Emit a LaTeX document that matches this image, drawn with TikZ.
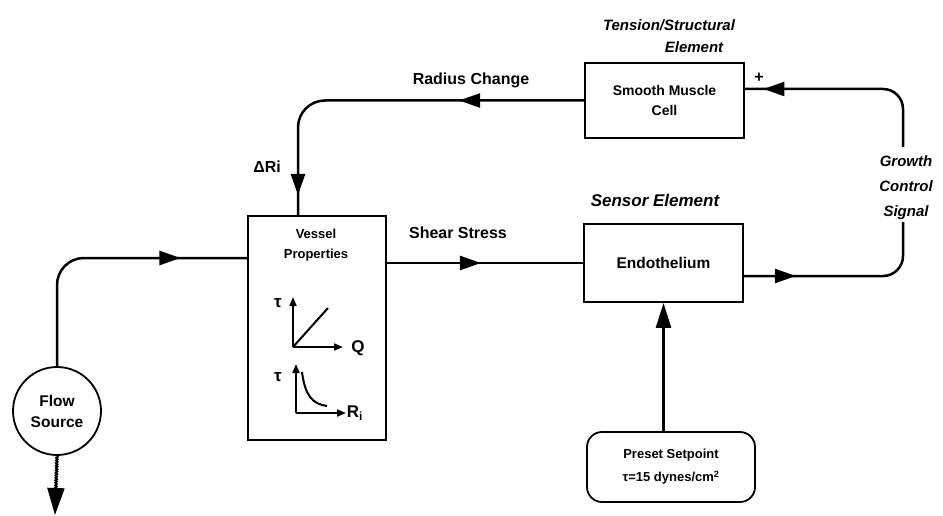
\documentclass[tikz,border=0pt]{standalone}
\usepackage{fontspec}
\setmainfont{Liberation Sans}
\usetikzlibrary{arrows.meta,positioning,calc,decorations.markings,decorations.pathmorphing}

\begin{document}
\begin{tikzpicture}[x=1pt,y=-1pt,
  blk/.style={draw,line width=1.8pt,inner sep=0pt,align=center,font=\fontsize{14}{20}\selectfont\bfseries},
  lbl/.style={inner sep=0pt,font=\fontsize{16}{18}\selectfont\bfseries},
  ilbl/.style={inner sep=0pt,align=center,font=\fontsize{15}{25}\selectfont\bfseries\itshape},
  wire/.style={line width=2.5pt},
  midtip/.style={postaction={decorate,decoration={markings,mark=at position #1 with {\arrow{Triangle[length=21pt,width=14pt]}}}}},
  plotaxis/.style={line width=2pt,-{Triangle[length=9pt,width=7pt]}}]
  \useasboundingbox (0,0) rectangle (943,516);

  % blocks
  \node[blk,minimum width=138pt,minimum height=224pt] (vessel) at (317,328) {};
  \node[blk,minimum width=159pt,minimum height=78pt,font=\fontsize{15.5}{20}\selectfont\bfseries] (endo) at (663.5,263) {Endothelium};
  \node[blk,minimum width=159pt,minimum height=75pt] (smc) at (664.5,100.5) {Smooth Muscle\\Cell};
  \node[blk,rounded corners=15pt,minimum width=168pt,minimum height=70pt,
        font=\fontsize{13}{23}\selectfont\bfseries] (preset) at (671,467)
        {Preset Setpoint\\τ=15 dynes/cm\textsuperscript{2}};
  \node[blk,circle,minimum size=88pt,font=\fontsize{15.5}{21}\selectfont\bfseries] (source) at (57,411) {Flow\\Source};
  \node[lbl,align=center,font=\fontsize{13}{20}\selectfont\bfseries] (vtitle) at (316,245) {Vessel\\Properties};

  % small plots inside the vessel block
  \draw[plotaxis] (293,347) -- (293,297);
  \draw[plotaxis] (293,347) -- (343,347);
  \draw[line width=2pt] (293,347) -- (328,308);
  \draw[plotaxis] (296,413) -- (296,364);
  \draw[plotaxis] (296,413) -- (346,413);
  \draw[line width=2pt] (302,372) .. controls (305,395) and (312,404) .. (327,406);
  \node[lbl,font=\fontsize{17}{18}\selectfont\bfseries] (tau1) at (278,303) {τ};
  \node[lbl,font=\fontsize{17}{18}\selectfont\bfseries] (qlbl) at (358,348) {Q};
  \node[lbl,font=\fontsize{17}{18}\selectfont\bfseries] (tau2) at (278,377) {τ};
  \node[lbl,font=\fontsize{17}{18}\selectfont\bfseries] (rlbl) at (355,413) {R\textsubscript{i}};

  % connectors
  \coordinate (vin) at (vessel.west |- 0,258);
  \coordinate (sout) at (vessel.east |- 0,263);
  \coordinate (sin) at (endo.west |- sout);
  \coordinate (eout) at (endo.east |- 0,276);
  \coordinate (gbot) at (903,222);
  \coordinate (gtop) at (903,147);
  \coordinate (smcin) at (smc.east |- 0,89);
  \coordinate (vtop) at (vessel.north -| 298,0);
  \coordinate (drain) at (55,515);

  \draw[wire,rounded corners=27pt,midtip=220pt] (source.north) |- (vin);
  \draw[wire,midtip=94pt] (sout) -- (sin);
  \draw[wire,rounded corners=20pt,midtip=52pt] (eout) -| (gbot);
  \draw[wire,rounded corners=20pt,midtip=189pt] (gtop) |- (smcin);
  \draw[wire,rounded corners=27pt,midtip=125pt,midtip=369pt] (smc.west) -| (vtop);
  \draw[wire,-{Triangle[length=25pt,width=15pt]}] (preset.north -| endo.south) -- (endo.south);
  \draw[wire,line width=2pt,decorate,
        decoration={snake,amplitude=0.7pt,segment length=2.5pt,post length=24pt},
        -{Triangle[length=27pt,width=17pt]}] (source.south) -- (drain);

  % labels
  \node[lbl] (rclbl) at (471,80) {Radius Change};
  \node[lbl] (drlbl) at (267,167) {ΔRi};
  \node[lbl] (sslbl) at (458,233) {Shear Stress};
  \node[lbl] (plus) at (759,78) {+};
  \node[ilbl,font=\fontsize{17}{20}\selectfont\bfseries\itshape] (sens) at (655,200) {Sensor Element};
  \node[ilbl] (tens) at (669,25) {Tension/Structural};
  \node[ilbl] (tens2) at (694,47) {Element};
  \node[ilbl] (grow) at (906,188) {Growth\\Control\\Signal};
\end{tikzpicture}
\end{document}
